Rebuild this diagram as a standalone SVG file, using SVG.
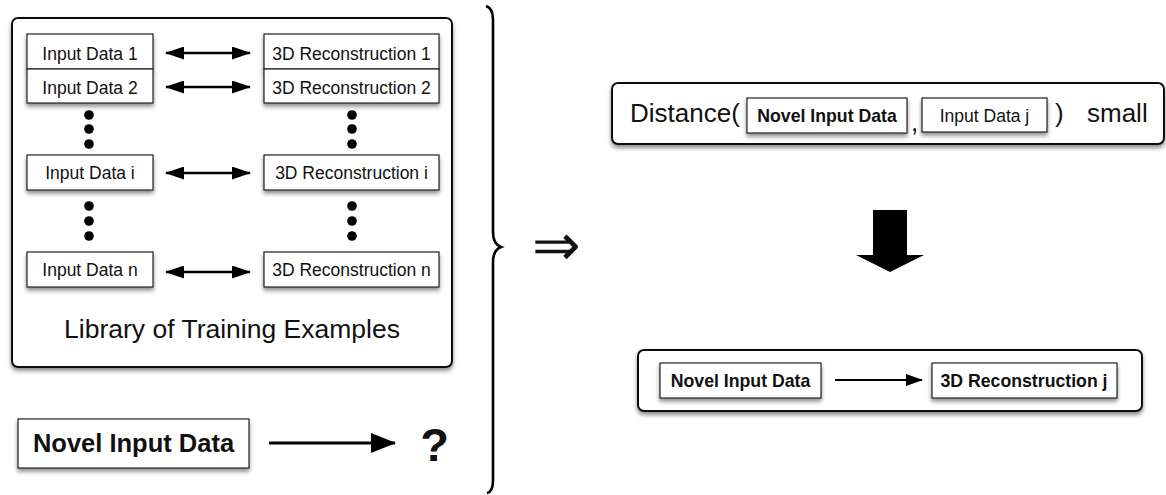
<svg xmlns="http://www.w3.org/2000/svg" width="1166" height="495" viewBox="0 0 1166 495">
<style>
.frame{fill:#fff;stroke:#111;stroke-width:2;filter:url(#sh)}
.box{fill:#fff;stroke:#222;stroke-width:1.2;filter:url(#sh)}
.t{font-family:"Liberation Sans",Arial,sans-serif;fill:#111}
.s{font-size:17.5px}
.b{font-weight:bold}
.ln{stroke:#000;fill:none}
.dot{fill:#000}
</style>
<defs>
<filter id="sh" x="-10%" y="-20%" width="120%" height="150%">
<feDropShadow dx="0" dy="3" stdDeviation="2" flood-color="#000" flood-opacity="0.45"/>
</filter>
<marker id="ah" viewBox="0 0 19 13" refX="18" refY="6.5" markerWidth="19" markerHeight="13" markerUnits="userSpaceOnUse" orient="auto-start-reverse">
<path d="M0,0 L19,6.5 L0,13 z" fill="#000"/>
</marker>
<marker id="ah2" viewBox="0 0 25 20" refX="24" refY="10" markerWidth="25" markerHeight="20" markerUnits="userSpaceOnUse" orient="auto">
<path d="M0,0 L25,10 L0,20 z" fill="#000"/>
</marker>
<marker id="ah3" viewBox="0 0 17 12" refX="16" refY="6" markerWidth="17" markerHeight="12" markerUnits="userSpaceOnUse" orient="auto">
<path d="M0,0 L17,6 L0,12 z" fill="#000"/>
</marker>
</defs>

<g id="library">
<rect class="frame" x="12" y="18" width="440" height="349" rx="6"/>
<text class="t" x="232" y="338" font-size="26.5" text-anchor="middle">Library of Training Examples</text>
</g>

<g id="input1"><rect class="box" x="27" y="34" width="126" height="35"/><text class="t s" x="90" y="60" text-anchor="middle">Input Data 1</text></g>
<g id="input2"><rect class="box" x="27" y="69" width="126" height="34"/><text class="t s" x="90" y="94" text-anchor="middle">Input Data 2</text></g>
<g id="inputi"><rect class="box" x="27" y="155" width="126" height="35"/><text class="t s" x="90" y="179" text-anchor="middle">Input Data i</text></g>
<g id="inputn"><rect class="box" x="27" y="252" width="126" height="35"/><text class="t s" x="90" y="276" text-anchor="middle">Input Data n</text></g>

<g id="recon1"><rect class="box" x="264" y="34" width="175" height="35"/><text class="t s" x="351.5" y="60" text-anchor="middle">3D Reconstruction 1</text></g>
<g id="recon2"><rect class="box" x="264" y="69" width="175" height="34"/><text class="t s" x="351.5" y="94" text-anchor="middle">3D Reconstruction 2</text></g>
<g id="reconi"><rect class="box" x="264" y="155" width="175" height="35"/><text class="t s" x="351.5" y="179" text-anchor="middle">3D Reconstruction i</text></g>
<g id="reconn"><rect class="box" x="264" y="252" width="175" height="35"/><text class="t s" x="351.5" y="276" text-anchor="middle">3D Reconstruction n</text></g>

<g id="ellipses">
<circle class="dot" cx="89" cy="115" r="4.8"/><circle class="dot" cx="89" cy="129" r="4.8"/><circle class="dot" cx="89" cy="144" r="4.8"/>
<circle class="dot" cx="89" cy="206" r="4.8"/><circle class="dot" cx="89" cy="221" r="4.8"/><circle class="dot" cx="89" cy="236" r="4.8"/>
<circle class="dot" cx="352" cy="115" r="4.8"/><circle class="dot" cx="352" cy="129" r="4.8"/><circle class="dot" cx="352" cy="144" r="4.8"/>
<circle class="dot" cx="352" cy="206" r="4.8"/><circle class="dot" cx="352" cy="221" r="4.8"/><circle class="dot" cx="352" cy="236" r="4.8"/>
</g>

<g id="novel">
<rect class="box" x="18" y="419" width="231" height="49"/>
<text class="t b" x="133.5" y="452" font-size="25.5" text-anchor="middle">Novel Input Data</text>
</g>
<g id="question"><text class="t b" x="434.5" y="461" font-size="47" text-anchor="middle">?</text></g>

<g id="distance">
<rect class="frame" x="612" y="83" width="552" height="61" rx="6"/>
<text class="t" x="630" y="122" font-size="26">Distance(</text>
<text class="t" x="911" y="131" font-size="26">,</text>
<text class="t" x="1055" y="122" font-size="26">)</text>
<text class="t" x="1087" y="122" font-size="26">small</text>
</g>
<g id="dist-novel"><rect class="box" x="747" y="98" width="160" height="35"/><text class="t b" x="827" y="122" font-size="17.7" text-anchor="middle">Novel Input Data</text></g>
<g id="dist-inputj"><rect class="box" x="922" y="98" width="125" height="34"/><text class="t s" x="984.5" y="121.5" text-anchor="middle">Input Data j</text></g>

<g id="result">
<rect class="frame" x="638" y="350" width="504" height="61" rx="6"/>
</g>
<g id="res-novel"><rect class="box" x="660" y="363" width="161" height="35"/><text class="t b" x="740.5" y="387" font-size="17.7" text-anchor="middle">Novel Input Data</text></g>
<g id="res-reconj"><rect class="box" x="932" y="363" width="185" height="35"/><text class="t b" x="1024" y="387" font-size="17.7" text-anchor="middle">3D Reconstruction j</text></g>

<g id="connectors">
<line class="ln" x1="166" y1="53" x2="250" y2="53" stroke-width="2.6" marker-start="url(#ah)" marker-end="url(#ah)"/>
<line class="ln" x1="166" y1="87" x2="250" y2="87" stroke-width="2.6" marker-start="url(#ah)" marker-end="url(#ah)"/>
<line class="ln" x1="166" y1="173" x2="250" y2="173" stroke-width="2.6" marker-start="url(#ah)" marker-end="url(#ah)"/>
<line class="ln" x1="166" y1="272" x2="250" y2="272" stroke-width="2.6" marker-start="url(#ah)" marker-end="url(#ah)"/>
<line class="ln" x1="269" y1="443" x2="395" y2="443" stroke-width="3" marker-end="url(#ah2)"/>
<line class="ln" x1="835" y1="380" x2="922" y2="380" stroke-width="2.2" marker-end="url(#ah3)"/>
<path d="M873,210 H907 V255 H924 L890,272 L856,255 H873 Z" fill="#000"/>
<path class="ln" stroke-width="2.6" d="M486,6 Q493,8 493,20 V232 Q493,244 501,247 Q493,250 493,262 V480 Q493,492 487,493"/>
<text class="t" x="556" y="265" font-size="58" text-anchor="middle" style="font-family:'DejaVu Sans',sans-serif;font-weight:200">⇒</text>
</g>
</svg>
